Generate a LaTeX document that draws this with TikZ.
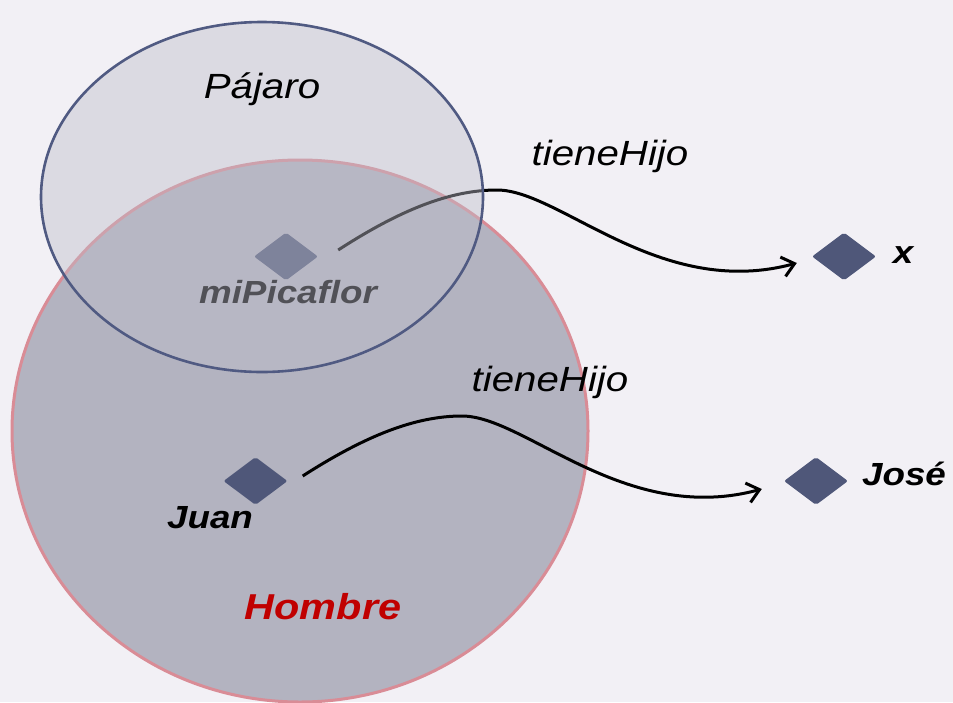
\documentclass[tikz,border=0pt]{standalone}
\usepackage{fontspec}
\setmainfont{Liberation Sans}[FakeStretch=1.15]
\usetikzlibrary{shapes.geometric,arrows.meta}
\definecolor{bg}{HTML}{F2F0F5}
\definecolor{hombrefill}{HTML}{B3B3C0}
\definecolor{hombreline}{HTML}{D98C96}
\definecolor{veil}{RGB}{190,190,202}
\definecolor{pajaroline}{HTML}{505A82}
\definecolor{gemc}{HTML}{4F5779}
\definecolor{hombretext}{HTML}{C00000}
\begin{document}
\begin{tikzpicture}[x=1pt,y=-1pt,
  gem/.style={shape=diamond, fill=gemc, minimum width=64pt, minimum height=48pt, inner sep=0pt, rounded corners=2pt},
  lbl/.style={anchor=base, inner sep=0pt, font=\fontsize{32}{36}\selectfont\bfseries\itshape},
  big/.style={anchor=base, inner sep=0pt, font=\fontsize{35}{40}\selectfont\itshape},
  rel/.style={line width=3pt, -{Straight Barb[length=12pt,width=20pt]}}]
\fill[bg] (0,0) rectangle (953,702);
\useasboundingbox (0,0) rectangle (953,702);
% Hombre
\draw[fill=hombrefill, draw=hombreline, line width=3pt] (300,431) ellipse [x radius=288pt, y radius=271pt];
% individuals
\node[gem] (mi) at (286,256.5) {};
\node[lbl] (milbl) at (288,303) {miPicaflor};
\node[gem] (juan) at (255.5,481) {};
\node[lbl] (juanlbl) at (210,528) {Juan};
\node[gem] (x) at (844,256.5) {};
\node[lbl] (xlbl) at (903,263) {x};
\node[gem] (jose) at (816,481) {};
\node[lbl] (joselbl) at (904,485) {José};
\node[lbl, font=\fontsize{36}{40}\selectfont\bfseries\itshape, text=hombretext] (hombre) at (323,619) {Hombre};
% relation 1 (under the Pájaro veil)
\coordinate (s1) at ([xshift=20pt,yshift=6.5pt]mi.east);
\coordinate (t1) at ([xshift=-15pt,yshift=-6.5pt]x.west);
\draw[rel] (s1) .. controls (400,210) and (450,190) .. (497,190) .. controls (560,190) and (660,300) .. (t1);
% Pájaro
\draw[fill=veil, fill opacity=0.43, draw=pajaroline, line width=2.6pt] (262,197) ellipse [x radius=221pt, y radius=175pt];
\node[big] (pajaro) at (262,98) {Pájaro};
\node[big] (rel1) at (610,165) {tieneHijo};
% relation 2
\coordinate (s2) at ([xshift=15pt,yshift=5pt]juan.east);
\coordinate (t2) at ([xshift=-22pt,yshift=-8pt]jose.west);
\draw[rel] (s2) .. controls (365,436) and (415,416) .. (462,416) .. controls (525,416) and (625,526) .. (t2);
\node[big] (rel2) at (550,391) {tieneHijo};
\end{tikzpicture}
\end{document}
